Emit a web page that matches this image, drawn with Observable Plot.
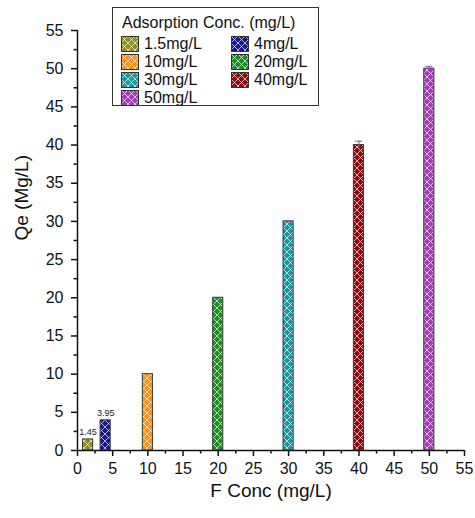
<!DOCTYPE html>
<html><head><meta charset="utf-8">
<script src="https://cdn.jsdelivr.net/npm/d3@7"></script>
<script src="https://cdn.jsdelivr.net/npm/@observablehq/plot@0.6"></script>
<style>
body{margin:0;background:#fff;font-family:"Liberation Sans",Arial,sans-serif}
#wrap{position:relative;width:475px;height:518px;overflow:hidden}
#legend{position:absolute;left:112px;top:7px;width:207px;height:99px;border:1px solid #333;background:#fff;box-sizing:border-box;font-size:16px;color:#111}
#legend .t{position:absolute;left:9px;top:6px;white-space:nowrap}
#legend .it{position:absolute;white-space:nowrap;display:flex;align-items:center}
#legend .it svg{margin-right:5px}
</style></head><body><div id="wrap"></div>
<script>
const concs = [1.5, 4, 10, 20, 30, 40, 50];
const qeValues = [1.45, 3.95, 10, 20, 30, 40, 50];
const errors = [0, 0, 0, 0, 0.1, 0.5, 0.3];
const seriesLabels = ["1.5mg/L", "4mg/L", "10mg/L", "20mg/L", "30mg/L", "40mg/L", "50mg/L"];
const valueLabels = ["1.45", "3.95", "", "", "", "", ""];
const colors = ["#8f8f22", "#16168f", "#f7931e", "#1f8c24", "#1d9898", "#8b0c0c", "#a23db5"];
const xTicks = [0, 5, 10, 15, 20, 25, 30, 35, 40, 45, 50, 55];
const yTicks = [0, 5, 10, 15, 20, 25, 30, 35, 40, 45, 50, 55];
const xMinor = [2.5, 7.5, 12.5, 17.5, 22.5, 27.5, 32.5, 37.5, 42.5, 47.5, 52.5];
const yMinor = [2.5, 7.5, 12.5, 17.5, 22.5, 27.5, 32.5, 37.5, 42.5, 47.5, 52.5];
const legendTitle = "Adsorption Conc. (mg/L)";
const xLabel = "F Conc (mg/L)";
const yLabel = "Qe (Mg/L)";

const barHalf = 0.72;
const data = concs.map((x, i) => ({x, y: qeValues[i], e: errors[i], label: valueLabels[i], color: colors[i], name: seriesLabels[i]}));
const errData = data.filter(d => d.e > 0);

const svg = Plot.plot({
  width: 475, height: 518,
  marginLeft: 77, marginRight: 11, marginTop: 30, marginBottom: 68,
  style: {fontFamily: "Liberation Sans, Arial, sans-serif", fontSize: "16px", color: "#111", background: "#fff", overflow: "visible"},
  x: {domain: [0, 55]},
  y: {domain: [0, 55]},
  color: {type: "identity"},
  marks: [
    Plot.rectY(data, {x1: d => d.x - barHalf, x2: d => d.x + barHalf, y1: 0, y2: "y", fill: "color"}),
    Plot.rectY(data, {x1: d => d.x - barHalf, x2: d => d.x + barHalf, y1: 0, y2: "y", fill: "url(#hatch)", stroke: "#3a3a3a", strokeWidth: 1}),
    Plot.ruleX(errData, {x: "x", y1: d => d.y - d.e, y2: d => d.y + d.e, stroke: "#8a5a9a", strokeWidth: 1}),
    Plot.ruleY(errData, {y: d => d.y + d.e, x1: d => d.x - 0.5, x2: d => d.x + 0.5, stroke: "#8a5a9a", strokeWidth: 1}),
    Plot.text(data, {x: "x", y: "y", text: "label", dy: -7, fontSize: 9, fill: "#222"}),
    Plot.axisX({ticks: xTicks, tickSize: 6, tickPadding: 6, label: null, fontSize: 16, strokeWidth: 1.5}),
    Plot.axisX({ticks: xMinor, tickSize: 3.5, tickFormat: () => "", label: null, strokeWidth: 1.5}),
    Plot.axisY({ticks: yTicks, tickSize: 6, tickPadding: 8, label: null, fontSize: 16, strokeWidth: 1.5}),
    Plot.axisY({ticks: yMinor, tickSize: 3.5, tickFormat: () => "", label: null, strokeWidth: 1.5}),
    Plot.ruleY([0], {stroke: "#111", strokeWidth: 1.5}),
    Plot.ruleX([0], {stroke: "#111", strokeWidth: 1.5}),
    Plot.text([xLabel], {frameAnchor: "bottom", dy: 46, fontSize: 19, fill: "#111"}),
    Plot.text([yLabel], {frameAnchor: "left", dx: -56, rotate: -90, fontSize: 19, fill: "#111"})
  ]
});

function hatchPattern(id, bg) {
  return `<pattern id="${id}" patternUnits="userSpaceOnUse" width="7" height="7">` +
    (bg ? `<rect width="7" height="7" fill="${bg}"/>` : "") +
    `<path d="M0,0L7,7M7,0L0,7" stroke="#fff" stroke-opacity="0.75" stroke-width="0.9" fill="none"/></pattern>`;
}
const defs = document.createElementNS("http://www.w3.org/2000/svg", "defs");
defs.innerHTML = hatchPattern("hatch", null) + colors.map((c, i) => hatchPattern("lg" + i, c)).join("");
svg.insertBefore(defs, svg.firstChild);

const wrap = document.getElementById("wrap");
wrap.appendChild(svg);

// Legend
const legend = document.createElement("div");
legend.id = "legend";
let html = `<div class="t">${legendTitle}</div>`;
const rowTops = [27, 45, 63, 81];
const colLefts = [8, 118];
seriesLabels.forEach((name, i) => {
  const r = Math.floor(i / 2), c = i % 2;
  html += `<div class="it" style="top:${rowTops[r]}px;left:${colLefts[c]}px">` +
    `<svg width="18" height="16"><rect x="0.5" y="0.5" width="17" height="15" fill="url(#lg${i})" stroke="#333" stroke-width="1"/></svg>` +
    `<span>${name}</span></div>`;
});
legend.innerHTML = html;
wrap.appendChild(legend);
</script>
</body></html>
